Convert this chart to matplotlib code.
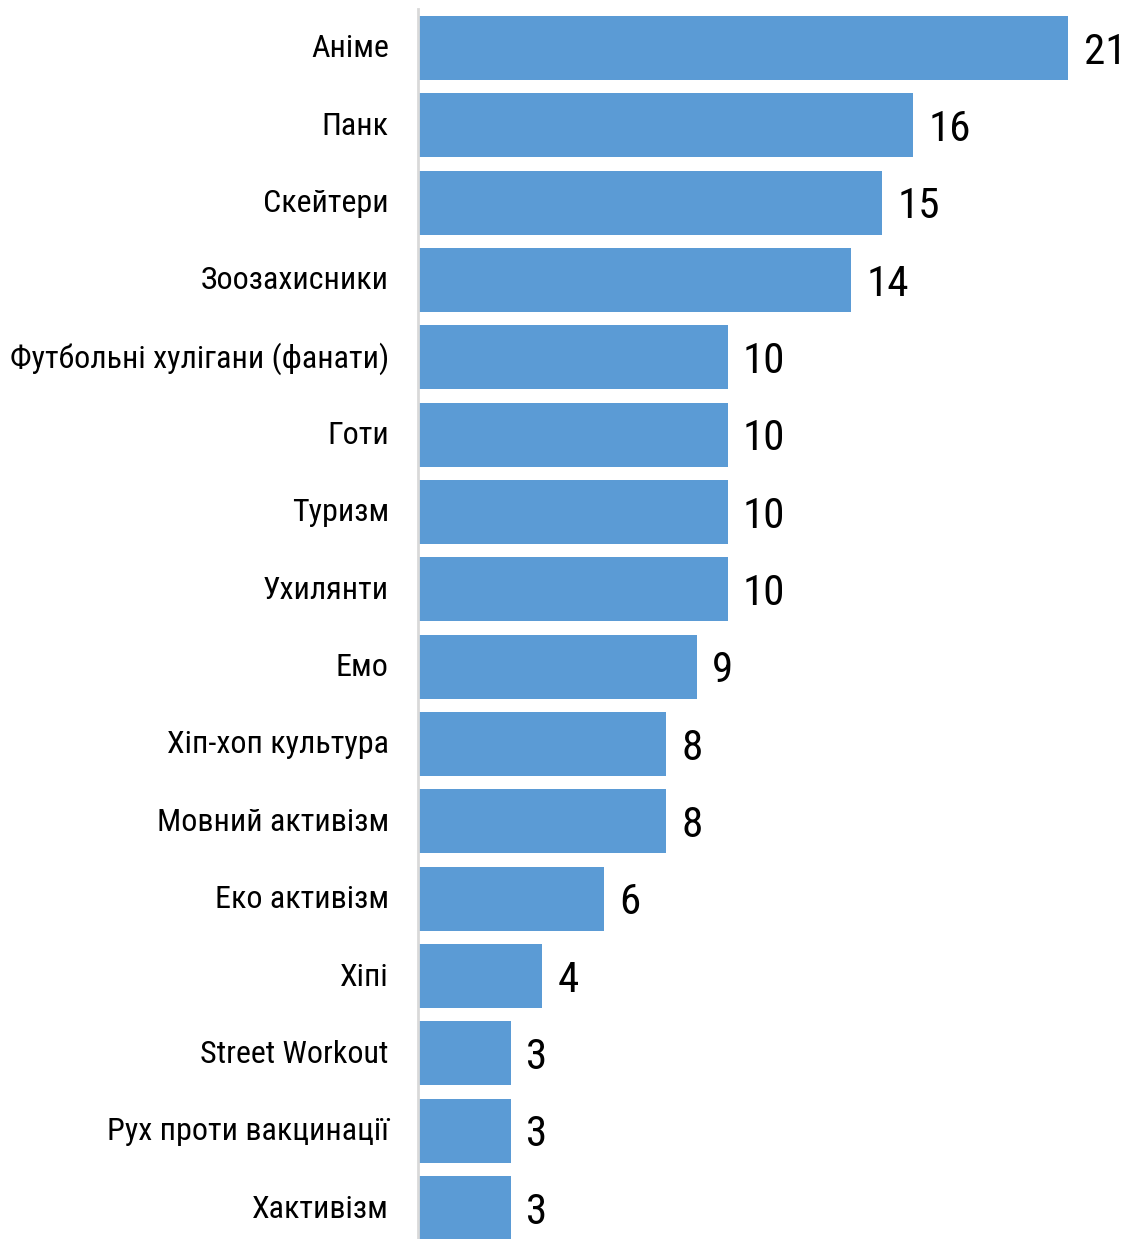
import matplotlib
matplotlib.use('Agg')
import matplotlib.pyplot as plt
import matplotlib.transforms as mtransforms

plt.rcParams['font.family'] = ['Roboto Condensed', 'DejaVu Sans']

categories = ['Аніме', 'Панк', 'Скейтери', 'Зоозахисники', 'Футбольні хулігани (фанати)',
              'Готи', 'Туризм', 'Ухилянти', 'Емо', 'Хіп-хоп культура', 'Мовний активізм',
              'Еко активізм', 'Хіпі', 'Street Workout', 'Рух проти вакцинації', 'Хактивізм']
values = [21, 16, 15, 14, 10, 10, 10, 10, 9, 8, 8, 6, 4, 3, 3, 3]

bar_color = '#5b9bd5'

fig = plt.figure(figsize=(11.26, 12.39), dpi=100)
ax = fig.add_axes([418 / 1126, -0.0062, 1 - 418 / 1126, 0.9987])

y = range(len(categories))
ax.barh(y, values, height=0.83, color=bar_color)
ax.set_ylim(len(categories) - 0.5, -0.5)
ax.set_xlim(0, 22.87)

for i, v in enumerate(values):
    ax.text(v + 0.5, i + 0.055, str(v), va='center', ha='left', fontsize=31, color='black')

ax.set_yticks(list(y))
ax.set_yticklabels(categories, fontsize=23)
ax.tick_params(axis='y', length=0, pad=21)
ax.set_xticks([])

# nudge category labels up a little
shift = mtransforms.ScaledTranslation(0, 2 / 100, fig.dpi_scale_trans)
for lbl in ax.get_yticklabels():
    lbl.set_transform(lbl.get_transform() + shift)

for s in ['top', 'right', 'bottom']:
    ax.spines[s].set_visible(False)
ax.spines['left'].set_color('#d9d9d9')
ax.spines['left'].set_linewidth(2)

fig.savefig('out.png', dpi=100)
